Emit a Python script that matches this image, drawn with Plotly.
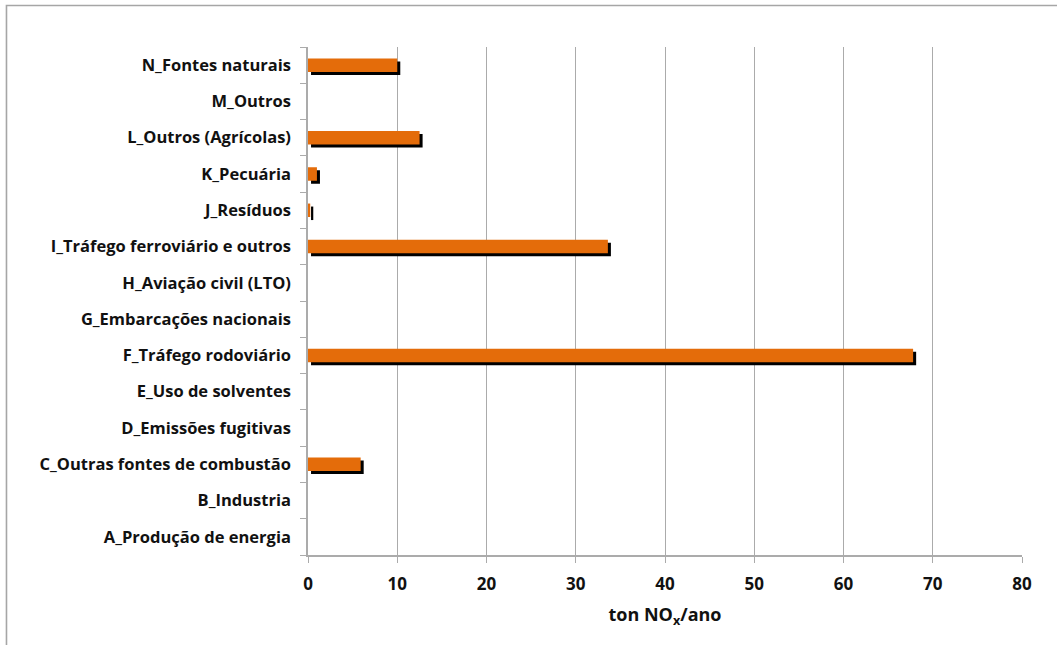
import plotly.graph_objects as go

# NOx emissions by activity sector (ton/year)
sectors = [
    "A_Produção de energia",
    "B_Industria",
    "C_Outras fontes de combustão",
    "D_Emissões fugitivas",
    "E_Uso de solventes",
    "F_Tráfego rodoviário",
    "G_Embarcações nacionais",
    "H_Aviação civil (LTO)",
    "I_Tráfego ferroviário e outros",
    "J_Resíduos",
    "K_Pecuária",
    "L_Outros (Agrícolas)",
    "M_Outros",
    "N_Fontes naturais",
]
nox = [0, 0, 5.9, 0, 0, 67.8, 0, 0, 33.6, 0.25, 1.0, 12.5, 0, 10.0]

x_ticks = [0, 10, 20, 30, 40, 50, 60, 70, 80]

ORANGE = "#E46C0A"
GRID = "#ABABAB"
FONT = "Open Sans"
BAR_W = 0.372
SHADOW_DX = 0.34   # horizontal shadow shift, axis units
SHADOW_DY = 0.083  # vertical shadow shift, category units

fig = go.Figure()

# drop shadow behind each bar
fig.add_trace(go.Bar(
    y=sectors, x=nox, orientation="h",
    base=SHADOW_DX, width=BAR_W, offset=-BAR_W / 2 - SHADOW_DY,
    marker=dict(color="#000000", line=dict(width=0)),
    hoverinfo="skip", showlegend=False,
))
# main bars
fig.add_trace(go.Bar(
    y=sectors, x=nox, orientation="h",
    width=BAR_W, offset=-BAR_W / 2,
    marker=dict(color=ORANGE, line=dict(width=0)),
    showlegend=False,
))

# outer chart border
fig.add_shape(type="rect", xref="paper", yref="paper",
              x0=-0.4223, x1=1.2, y0=-0.3, y1=1.0817,
              line=dict(color="#A6A6A6", width=1.6), layer="below")

fig.update_layout(
    width=1057, height=645,
    margin=dict(l=308, r=35, t=47, b=90),
    paper_bgcolor="white", plot_bgcolor="white",
    barmode="overlay",
    font=dict(family=FONT, size=16, color="#111111"),
    xaxis=dict(
        range=[0, 80], tickvals=x_ticks,
        showgrid=True, gridcolor=GRID, gridwidth=1.2,
        showline=True, linecolor=GRID, linewidth=1.5,
        ticks="outside", ticklen=6, tickcolor=GRID, tickwidth=1.2,
        tickfont=dict(family=FONT, size=17, weight="bold"),
        ticklabelstandoff=7,
        zeroline=False,
        title=dict(text="ton NO<sub>x</sub>/ano",
                   font=dict(family=FONT, size=18, weight="bold"),
                   standoff=14),
    ),
    yaxis=dict(
        type="category", categoryorder="array", categoryarray=sectors,
        range=[-0.5, 13.5], tickson="boundaries",
        showgrid=False,
        showline=True, linecolor=GRID, linewidth=1.5,
        ticks="outside", ticklen=6, tickcolor=GRID, tickwidth=1.2,
        tickfont=dict(family=FONT, size=16.5, weight="bold"),
        ticklabelstandoff=12,
    ),
)

fig.write_html("out.html")
